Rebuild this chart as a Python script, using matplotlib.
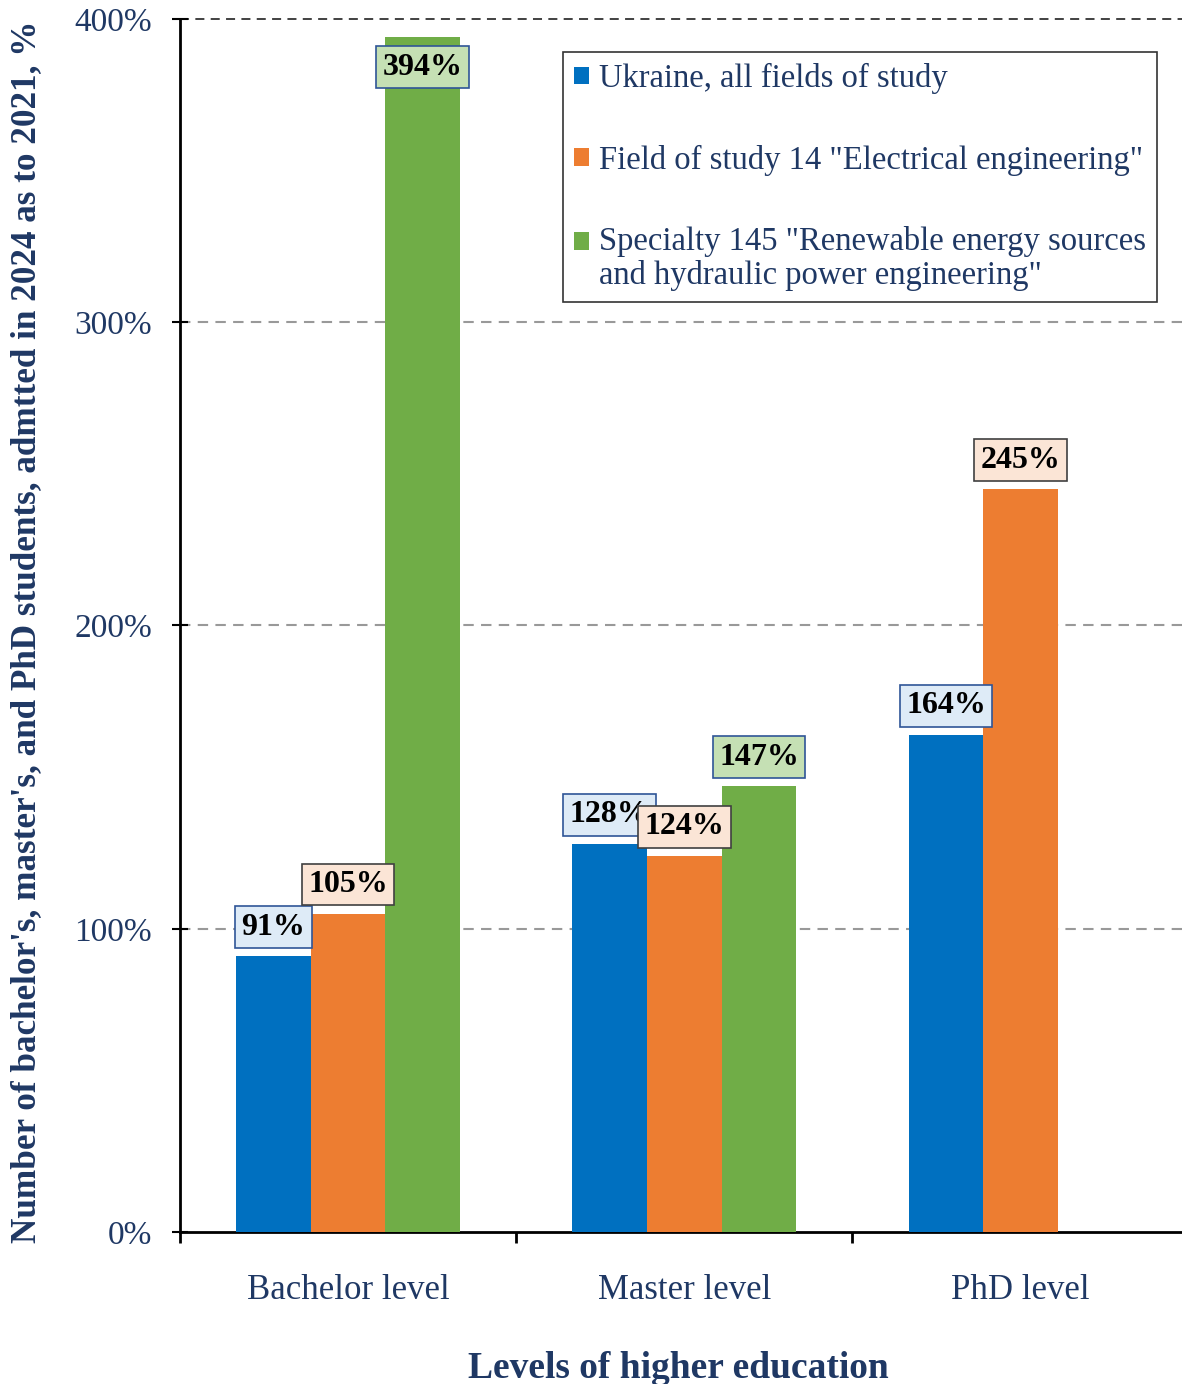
import numpy as np
import matplotlib
matplotlib.use('Agg')
import matplotlib.pyplot as plt
from matplotlib.patches import Patch, Rectangle
from matplotlib.legend_handler import HandlerPatch

# admission growth 2024 vs 2021, %
levels = ['Bachelor level', 'Master level', 'PhD level']
ukraine = [91, 128, 164]
electrical = [105, 124, 245]
renewable = [394, 147, None]  # no PhD data for specialty 145

series_names = ['Ukraine, all fields of study',
                'Field of study 14 "Electrical engineering"',
                'Specialty 145 "Renewable energy sources\nand hydraulic power engineering"']
bar_colors = ['#0070C0', '#ED7D31', '#70AD47']
box_faces = ['#DEEBF7', '#FBE5D6', '#C5E0B4']
box_edges = ['#2F5597', '#404040', '#2F5597']

navy = '#1F3864'
plt.rcParams['font.family'] = ['Liberation Serif', 'DejaVu Serif']

fig = plt.figure(figsize=(11.82, 13.84), dpi=100)
ax = fig.add_axes([0.1523, 0.1098, 0.8477, 0.8765])

x = np.arange(len(levels))
w = 0.222
all_series = [ukraine, electrical, renewable]

for i, vals in enumerate(all_series):
    for j, v in enumerate(vals):
        if v is None:
            continue
        xpos = x[j] + (i - 1) * w
        ax.bar(xpos, v, width=w, color=bar_colors[i], edgecolor='none', zorder=3)
        # label sits above the bar, or inside when it would run off the top
        dy = 29 if v < 380 else -30
        ax.annotate(f'{v}%', xy=(xpos, v), xytext=(0, dy), textcoords='offset pixels',
                    ha='center', va='center', fontsize=23, fontweight='bold', color='black',
                    bbox=dict(boxstyle='square,pad=0.2', fc=box_faces[i], ec=box_edges[i], lw=1.2),
                    zorder=5)

ax.set_xlim(-0.5, 2.48)
ax.set_ylim(0, 400)
ax.set_yticks([0, 100, 200, 300, 400])
ax.set_yticklabels(['0%', '100%', '200%', '300%', '400%'])

for yv in [100, 200, 300]:
    ax.axhline(yv, color='#999999', linestyle=(0, (5, 3.5)), linewidth=1.5, zorder=1)
ax.axhline(400, color='#333333', linestyle=(0, (5, 3.5)), linewidth=1.3, zorder=1, clip_on=False)

ax.set_xticks(x)
ax.set_xticklabels(levels)
ax.set_xticks([-0.5, 0.5, 1.5], minor=True)
ax.tick_params(axis='x', which='major', length=0, pad=30, labelsize=25, labelcolor=navy)
ax.tick_params(axis='x', which='minor', length=8, width=2, direction='out')
ax.tick_params(axis='y', length=12, width=1.5, direction='inout', pad=14, labelsize=24, labelcolor=navy)

for side in ['top', 'right']:
    ax.spines[side].set_visible(False)
for side in ['left', 'bottom']:
    ax.spines[side].set_linewidth(2)

ax.set_ylabel("Number of bachelor's, master's, and PhD students, admtted in 2024 as to 2021, %",
              fontsize=25.3, fontweight='bold', color=navy)
ax.set_xlabel('Levels of higher education', fontsize=27, fontweight='bold', color=navy)
ax.yaxis.set_label_coords(-0.137, 0.4946)
ax.xaxis.set_label_coords(0.497, -0.098)


def top_aligned_square(legend, orig_handle, xdescent, ydescent, width, height, fontsize):
    # keep the marker next to the first line of a two-line label
    return Rectangle((-xdescent, -ydescent + 0.55 * fontsize), width, height)


handles = [Patch(facecolor=c, edgecolor='none') for c in bar_colors]
leg = ax.legend(handles, series_names, loc='upper right', bbox_to_anchor=(0.975, 0.973),
                fontsize=23.5, labelcolor=navy, frameon=True, fancybox=False,
                edgecolor='black', handlelength=0.45, handleheight=0.45,
                handletextpad=0.3, labelspacing=1.55, borderpad=0.35, borderaxespad=0,
                handler_map={handles[2]: HandlerPatch(patch_func=top_aligned_square)})
leg.get_texts()[2].set_linespacing(1.1)
leg.get_frame().set_linewidth(1.2)
leg.set_zorder(6)

fig.savefig('out.png', dpi=100)
